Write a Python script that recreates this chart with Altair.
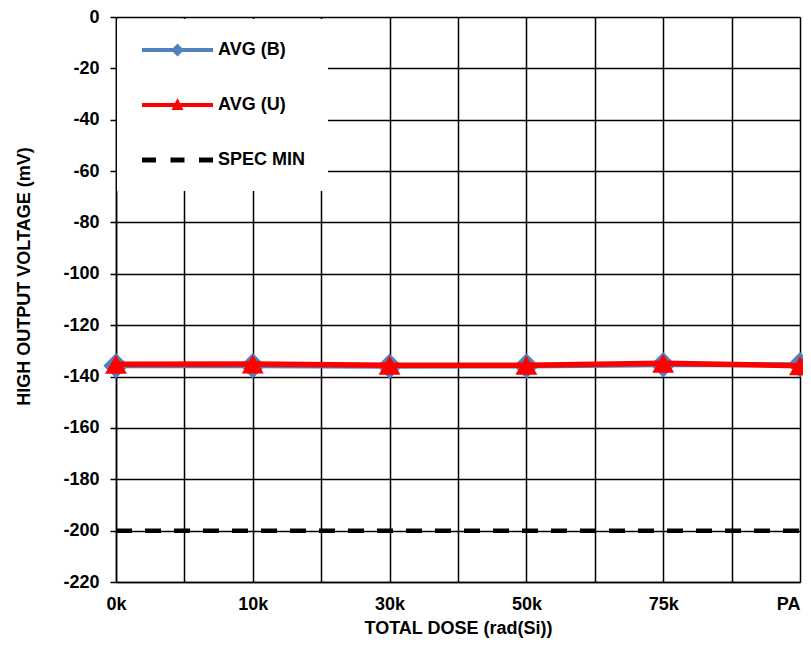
import altair as alt
import pandas as pd

x_labels = ["0k", "10k", "30k", "50k", "75k", "PA"]
avg_b = [-135.8, -135.8, -136.0, -135.9, -135.4, -135.4]
avg_u = [-135.2, -135.1, -135.6, -135.6, -134.8, -135.8]
spec_min = [-200, -200, -200, -200, -200, -200]

series_names = ["AVG (B)", "AVG (U)", "SPEC MIN"]
series_colors = ["#4F81BD", "#FF0000", "#000000"]

FONT = "Liberation Sans"
FS = 18

df_b = pd.DataFrame({"idx": range(len(x_labels)), "label": x_labels, "v": avg_b})
df_u = pd.DataFrame({"idx": range(len(x_labels)), "label": x_labels, "v": avg_u})
df_s = pd.DataFrame({"idx": range(len(x_labels)), "label": x_labels, "v": spec_min})
df_leg = pd.DataFrame({"series": series_names, "idx": [0, 0, 0], "v": [20, 20, 20]})

label_js = "[" + ",".join("'%s'" % s for s in x_labels) + "]"
last = len(x_labels) - 1
x_vals = [i * 0.5 for i in range(2 * last + 1)]

x_axis = alt.Axis(
    values=x_vals,
    labelExpr="datum.value % 1 == 0 ? " + label_js + "[datum.value] : ''",
    labelAlign={"condition": {"test": "datum.value == %d" % last, "value": "right"}, "value": "center"},
    grid=True, gridColor="#000000", gridWidth=1.5, gridOpacity=1,
    ticks=False, domainColor="#000000", domainWidth=1.5,
    labelFont=FONT, labelFontSize=FS, labelFontWeight="bold", labelColor="#000000",
    labelPadding=13, labelFlush=False, labelOverlap=False,
    title="TOTAL DOSE (rad(Si))", titleFont=FONT, titleFontSize=FS,
    titleFontWeight="bold", titleColor="#000000", titlePadding=6,
)
y_axis = alt.Axis(
    values=list(range(-220, 1, 20)),
    labelExpr="'' + datum.value",
    grid=True, gridColor="#000000", gridWidth=1.5, gridOpacity=1,
    ticks=True, tickSize=6, tickColor="#000000", tickWidth=1.5,
    domainColor="#000000", domainWidth=1.5,
    labelFont=FONT, labelFontSize=FS, labelFontWeight="bold", labelColor="#000000",
    labelPadding=11, labelFlush=False, labelOverlap=False,
    title="HIGH OUTPUT VOLTAGE (mV)", titleFont=FONT, titleFontSize=FS,
    titleFontWeight="bold", titleColor="#000000", titleX=-92, titleY=259,
    titleBaseline="middle",
)

x_enc = alt.X("idx:Q", scale=alt.Scale(domain=[0, 5], nice=False, zero=False), axis=x_axis)
y_enc = alt.Y("v:Q", scale=alt.Scale(domain=[-220, 0], nice=False, zero=False), axis=y_axis)

spec = alt.Chart(df_s).mark_line(color="#000000", strokeWidth=4.5, strokeDash=[16, 13]).encode(x=x_enc, y=y_enc)
b_line = alt.Chart(df_b).mark_line(color="#4F81BD", strokeWidth=5).encode(x=x_enc, y=y_enc)
b_pts = alt.Chart(df_b).mark_point(shape="diamond", filled=True, size=640, color="#4F81BD", opacity=1).encode(x=x_enc, y=y_enc)
u_line = alt.Chart(df_u).mark_line(color="#FF0000", strokeWidth=5.5).encode(x=x_enc, y=y_enc)
u_pts = alt.Chart(df_u).mark_point(shape="triangle-up", filled=True, size=480, color="#FF0000", opacity=1).encode(x=x_enc, y=y_enc)

# legend symbols: line + marker, drawn in units of 10 px (symbol size 400), shifted right
path_b = "M-0.6,-0.2L6.5,-0.2L6.5,0.2L-0.6,0.2Z M2.95,-0.65L3.6,0L2.95,0.65L2.3,0Z"
path_u = "M-0.6,-0.2L6.5,-0.2L6.5,0.2L-0.6,0.2Z M2.95,-0.7L3.55,0.5L2.35,0.5Z"
path_s = ("M-0.6,-0.25L0.8,-0.25L0.8,0.25L-0.6,0.25Z M2.25,-0.25L3.65,-0.25L3.65,0.25L2.25,0.25Z "
          "M5.1,-0.25L6.5,-0.25L6.5,0.25L5.1,0.25Z")

legend = alt.Legend(
    title=None, orient="none", legendX=1, legendY=2, padding=21,
    fillColor="#FFFFFF", strokeColor="#FFFFFF", symbolSize=400, symbolStrokeWidth=0,
    labelFont=FONT, labelFontSize=FS, labelFontWeight="bold", labelColor="#000000",
    labelOffset=60, rowPadding=36, symbolOpacity=1,
)
leg = alt.Chart(df_leg).mark_point(filled=True, clip=True, size=400, opacity=1).encode(
    x=x_enc, y=y_enc,
    color=alt.Color("series:N", scale=alt.Scale(domain=series_names, range=series_colors), legend=legend),
    shape=alt.Shape("series:N", scale=alt.Scale(domain=series_names, range=[path_b, path_u, path_s]), legend=legend),
)

chart = alt.layer(spec, b_line, b_pts, u_line, u_pts, leg).properties(
    width=684, height=565,
    autosize=alt.AutoSizeParams(type="none"),
    padding={"left": 108, "top": 9, "right": 3, "bottom": 56},
).configure_view(stroke=None).configure(background="#FFFFFF")

chart.save("out.html", embed_options={"renderer": "svg", "actions": False})
